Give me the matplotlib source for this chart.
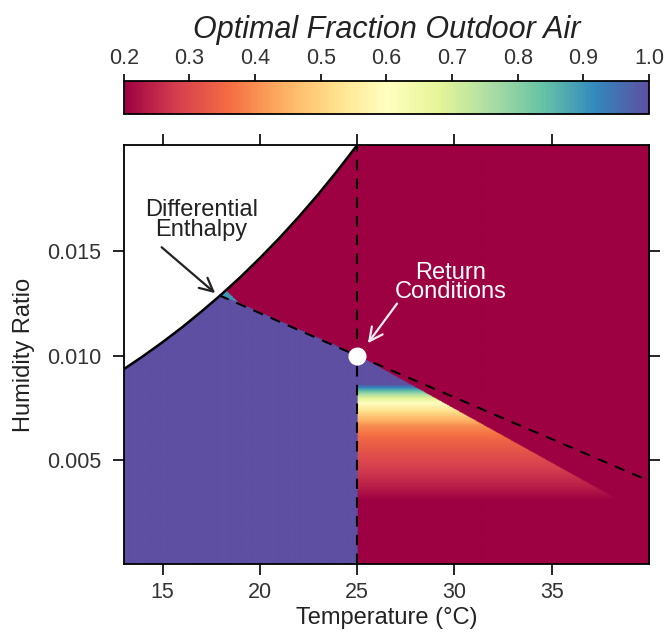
import numpy as np
import matplotlib
matplotlib.use("Agg")
import matplotlib.pyplot as plt

plt.rcParams['font.family'] = ['Liberation Sans', 'DejaVu Sans']

# saturation curve (temperature degC, humidity ratio)
sat_T = [13, 14, 15, 16, 17, 18, 19, 20, 21, 22, 23, 24, 25]
sat_w = [0.00935, 0.00998, 0.01065, 0.01136, 0.01212, 0.01292, 0.01377,
         0.01468, 0.01564, 0.01666, 0.01774, 0.01889, 0.0201]

# constant enthalpy line through the return conditions
enth_T = [17.9, 25, 40]
enth_w = [0.0129, 0.0100, 0.0040]

# upper edge of the economizer zone right of 25 degC
edge_T = [25, 39.1]
edge_w = [0.0100, 0.0027]

# fraction of outdoor air across humidity in that zone
prof_w = [-0.001, 0.0030, 0.0039, 0.0050, 0.0060, 0.0066, 0.0072, 0.0077, 0.0081, 0.0084, 0.0086, 0.011]
prof_f = [0.2, 0.2, 0.25, 0.30, 0.35, 0.40, 0.50, 0.60, 0.75, 0.90, 1.0, 1.0]

ret_T, ret_w = 25, 0.010

xlo, xhi = 13, 40
ylo, yhi = 0.0, 0.0201

fig = plt.figure(figsize=(6.65, 6.39), dpi=100)
ax = fig.add_axes([0.186, 0.117, 0.790, 0.656])
cax = fig.add_axes([0.186, 0.822, 0.790, 0.051])

cmap = plt.get_cmap('Spectral').copy()
cmap.set_bad('white')

tt = np.linspace(xlo, xhi, 700)
ww = np.linspace(ylo, yhi, 700)
T, W = np.meshgrid(tt, ww)
wsat = np.interp(T, sat_T, sat_w, right=1.0)
went = np.interp(T, enth_T, enth_w)
wedge = np.interp(T, edge_T, edge_w)

F = np.full(T.shape, 0.2)
F[(T < ret_T) & (W < went)] = 1.0
sliver = (T < 18.9) & (W >= went) & (W < went + 0.0005 * (18.9 - T))
F[sliver] = 0.9
right = (T >= ret_T) & (W < wedge)
F[right] = np.interp(W[right], prof_w, prof_f)
F = np.ma.masked_where(W > wsat, F)

im = ax.imshow(F, origin='lower', extent=[xlo, xhi, ylo, yhi], aspect='auto',
               cmap=cmap, vmin=0.2, vmax=1.0, interpolation='bilinear')

ax.plot(sat_T, sat_w, color='black', lw=1.8)
ax.plot(enth_T, enth_w, color='black', lw=1.5, ls=(0, (5, 4)))
ax.plot([ret_T, ret_T], [ylo, yhi], color='black', lw=1.5, ls=(0, (5, 4)))
ax.plot(ret_T, ret_w, 'o', color='white', ms=12, mec='white')

ax.text(17.0, 0.01650, 'Differential\nEnthalpy', ha='center', va='center',
        fontsize=17, color='#222222', linespacing=0.85)
ax.annotate('', xy=(17.7, 0.01300), xytext=(14.95, 0.01520),
            arrowprops=dict(arrowstyle='->', color='#222222', lw=1.6,
                            shrinkA=0, shrinkB=0, mutation_scale=24))
ax.text(29.8, 0.01352, 'Return\nConditions', ha='center', va='center',
        fontsize=17, color='white', linespacing=0.85)
ax.annotate('', xy=(25.55, 0.01060), xytext=(27.05, 0.01250),
            arrowprops=dict(arrowstyle='->', color='#f4eef4', lw=1.6,
                            shrinkA=0, shrinkB=0, mutation_scale=24))

ax.set_xlim(xlo, xhi)
ax.set_ylim(ylo, yhi)
ax.set_xticks([15, 20, 25, 30, 35])
ax.set_yticks([0.005, 0.010, 0.015])
ax.set_yticklabels(['0.005', '0.010', '0.015'])
ax.tick_params(direction='out', length=8, width=1.2, labelsize=15.5, labelcolor='#333333',
               top=True, right=True, labeltop=False, labelright=False)
ax.tick_params(axis='x', pad=5)
ax.tick_params(axis='y', pad=8)
ax.set_xlabel('Temperature (°C)', fontsize=17, labelpad=3, color='#222222')
ax.set_ylabel('Humidity Ratio', fontsize=17, labelpad=9, color='#222222')
for s in ax.spines.values():
    s.set_linewidth(1.3)

cb = fig.colorbar(im, cax=cax, orientation='horizontal')
cax.xaxis.set_ticks_position('top')
cax.xaxis.set_label_position('top')
cb.set_ticks([0.2, 0.3, 0.4, 0.5, 0.6, 0.7, 0.8, 0.9, 1.0])
cb.set_ticklabels(['0.2', '0.3', '0.4', '0.5', '0.6', '0.7', '0.8', '0.9', '1.0'])
cax.tick_params(direction='out', length=5, width=1.2, labelsize=15.5, labelcolor='#333333', pad=4)
cb.outline.set_linewidth(1.3)
cax.set_xlabel('Optimal Fraction Outdoor Air', fontsize=22, style='italic', labelpad=7,
               color='#222222')

fig.savefig('out.png', dpi=100)
